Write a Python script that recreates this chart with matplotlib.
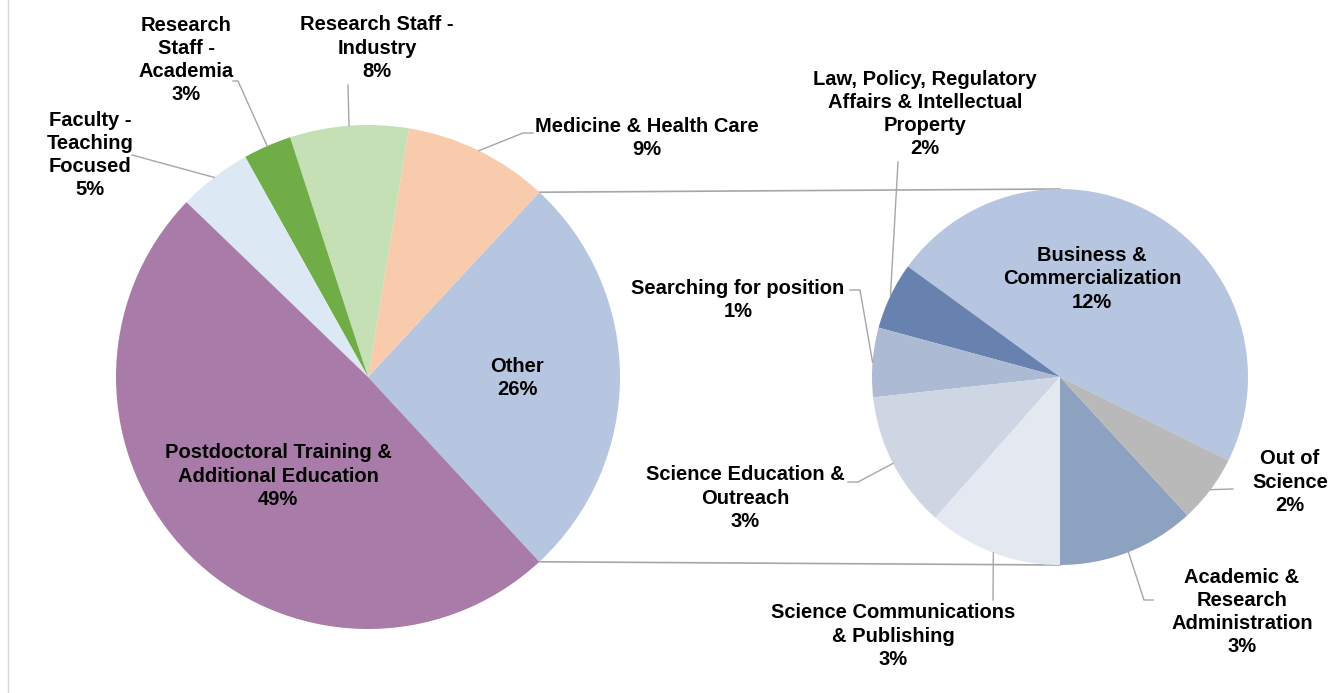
import numpy as np
import matplotlib
matplotlib.use("Agg")
import matplotlib.pyplot as plt

plt.rcParams['font.family'] = ['Liberation Sans', 'DejaVu Sans']

# main pie (percent of total)
main_labels = ['Other', 'Medicine & Health Care', 'Research Staff -\nIndustry',
               'Research\nStaff -\nAcademia', 'Faculty -\nTeaching\nFocused',
               'Postdoctoral Training &\nAdditional Education']
main_values = [26.2, 9.3, 7.6, 3.1, 4.7, 49.1]
main_pct = ['26%', '9%', '8%', '3%', '5%', '49%']
main_colors = ['#B7C6E0', '#F8CBAD', '#C5E0B4', '#70AD47', '#DDE8F5', '#A97BA8']

# breakdown of "Other"
sub_labels = ['Business &\nCommercialization',
              'Law, Policy, Regulatory\nAffairs & Intellectual\nProperty',
              'Searching for position', 'Science Education &\nOutreach',
              'Science Communications\n& Publishing',
              'Academic &\nResearch\nAdministration', 'Out of\nScience']
sub_values = [12.3, 1.5, 1.55, 3.05, 3.0, 3.08, 1.52]
sub_pct = ['12%', '2%', '1%', '3%', '3%', '3%', '2%']
sub_colors = ['#B7C6E0', '#6882B0', '#ADBAD4', '#CFD6E3', '#E4E8F1', '#8DA1C1', '#B9B9B9']

W, H = 1336, 693


def P(x, y):
    # pixel coords (top-left origin) -> data coords
    return (x, H - y)


fig = plt.figure(figsize=(W / 100, H / 100), dpi=100)
ax = fig.add_axes([0, 0, 1, 1])

c1, r1 = P(368, 377), 252
c2, r2 = P(1060, 377), 188

start1 = -main_values[0] / sum(main_values) * 360 / 2
w1, _ = ax.pie(main_values, colors=main_colors, startangle=start1, counterclock=True,
               center=c1, radius=r1, wedgeprops=dict(linewidth=0))
w2, _ = ax.pie(sub_values, colors=sub_colors, startangle=-26.3, counterclock=True,
               center=c2, radius=r2, wedgeprops=dict(linewidth=0))

ax.set_xlim(0, W)
ax.set_ylim(0, H)
ax.set_aspect('equal')
ax.axis('off')

lc = '#A6A6A6'

# connector lines from the "Other" slice to the second pie
o = w1[0]
for ang, sgn in [(o.theta2, 1), (o.theta1, -1)]:
    a = np.deg2rad(ang)
    p0 = (c1[0] + r1 * np.cos(a), c1[1] + r1 * np.sin(a))
    p1 = (c2[0], c2[1] + sgn * r2)
    ax.plot([p0[0], p1[0]], [p0[1], p1[1]], color=lc, lw=1.2, zorder=0)

tkw = dict(ha='center', va='center', fontsize=14.5, fontweight='bold', color='black',
           linespacing=1.28)

# label positions (text center) and leader line starts, pixel coords
main_pos = [(517, 378), (647, 138), (377, 48), (186, 60), (90, 155), (278, 476)]
main_lead = [None, [(533, 133), (523, 133)], [(348, 85)], [(233, 81), (238, 81)],
             [(132, 155)], None]
sub_pos = [(1092, 279), (925, 114), (738, 300), (745, 498), (893, 636), (1242, 612),
           (1290, 482)]
sub_lead = [None, [(898, 162)], [(850, 290), (860, 290)], [(848, 482), (858, 482)],
            [(993, 600)], [(1153, 600), (1144, 600)], [(1233, 489)]]


def draw_labels(wedges, labels, pct, pos, leads, c, r):
    for w, lab, p, xy, ld in zip(wedges, labels, pct, pos, leads):
        ax.text(*P(*xy), lab + '\n' + p, **tkw)
        if ld:
            mid = np.deg2rad((w.theta1 + w.theta2) / 2)
            edge = (c[0] + r * np.cos(mid), c[1] + r * np.sin(mid))
            pts = [P(*q) for q in ld] + [edge]
            ax.plot([q[0] for q in pts], [q[1] for q in pts], color=lc, lw=1)


draw_labels(w1, main_labels, main_pct, main_pos, main_lead, c1, r1)
draw_labels(w2, sub_labels, sub_pct, sub_pos, sub_lead, c2, r2)

# thin frame line on the left edge
ax.plot([8, 8], [0, H], color='#D9D9D9', lw=1)

fig.savefig('out.png', dpi=100)
